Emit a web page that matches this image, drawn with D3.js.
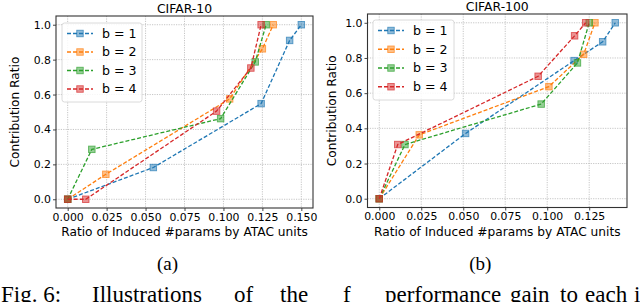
<!DOCTYPE html>
<html>
<head>
<meta charset="utf-8">
<script src="https://cdn.jsdelivr.net/npm/d3@7"></script>
<style>
  body { margin: 0; background: #fff; }
  svg { display: block; }
  text { font-family: "DejaVu Sans", sans-serif; fill: #000; }
  .serif { font-family: "Liberation Serif", "Times New Roman", serif; }
</style>
</head>
<body>
<svg id="chart" width="640" height="302"></svg>
<script>
// series labels and colours (matplotlib tab10)
var seriesNames = ["b = 1", "b = 2", "b = 3", "b = 4"];
var colors = ["#1f77b4", "#ff7f0e", "#2ca02c", "#d62728"];

// CIFAR-10 : x = ratio of induced #params, y = contribution ratio
var c10_b1_x = [0, 0.055, 0.1242, 0.1425, 0.150];
var c10_b1_y = [0, 0.182, 0.548, 0.910, 1.0];
var c10_b2_x = [0, 0.0245, 0.104, 0.125, 0.132];
var c10_b2_y = [0, 0.143, 0.575, 0.862, 1.0];
var c10_b3_x = [0, 0.0155, 0.0982, 0.1204, 0.1274];
var c10_b3_y = [0, 0.286, 0.462, 0.787, 1.0];
var c10_b4_x = [0, 0.0116, 0.0956, 0.1176, 0.1242];
var c10_b4_y = [0, 0, 0.505, 0.752, 1.0];

// CIFAR-100
var c100_b1_x = [0, 0.0514, 0.116, 0.133, 0.1405];
var c100_b1_y = [0, 0.371, 0.785, 0.892, 1.0];
var c100_b2_x = [0, 0.0238, 0.101, 0.1217, 0.1284];
var c100_b2_y = [0, 0.363, 0.637, 0.821, 1.0];
var c100_b3_x = [0, 0.0153, 0.0964, 0.118, 0.125];
var c100_b3_y = [0, 0.308, 0.538, 0.772, 1.0];
var c100_b4_x = [0, 0.011, 0.0946, 0.1163, 0.1229];
var c100_b4_y = [0, 0.308, 0.696, 0.926, 1.0];

var yTicks = [0, 0.2, 0.4, 0.6, 0.8, 1.0];
var c10_xTicks = [0, 0.025, 0.05, 0.075, 0.1, 0.125, 0.15];
var c100_xTicks = [0, 0.025, 0.05, 0.075, 0.1, 0.125];

var xLabel = "Ratio of Induced #params by ATAC units";
var yLabel = "Contribution Ratio";

var svg = d3.select("#chart");

function zip(xs, ys){ return xs.map(function(x, i){ return [x, ys[i]]; }); }

var panels = [
  { title: "CIFAR-10", sub: "(a)", left: 56, right: 313, top: 16, bottom: 208,
    xDomain: [-0.0075, 0.1575], xTicks: c10_xTicks, titleY: 12.5, yLabelX: 19,
    legend: {x: 62, y: 23, w: 80, h: 79},
    series: [zip(c10_b1_x, c10_b1_y), zip(c10_b2_x, c10_b2_y), zip(c10_b3_x, c10_b3_y), zip(c10_b4_x, c10_b4_y)] },
  { title: "CIFAR-100", sub: "(b)", left: 367.5, right: 627, top: 14, bottom: 207.5,
    xDomain: [-0.007, 0.1475], xTicks: c100_xTicks, titleY: 10.5, yLabelX: 336,
    legend: {x: 373, y: 20, w: 81, h: 80},
    series: [zip(c100_b1_x, c100_b1_y), zip(c100_b2_x, c100_b2_y), zip(c100_b3_x, c100_b3_y), zip(c100_b4_x, c100_b4_y)] }
];

panels.forEach(function(p){

  var x = d3.scaleLinear().domain(p.xDomain).range([p.left, p.right]);
  var y = d3.scaleLinear().domain([-0.05, 1.05]).range([p.bottom, p.top]);
  var g = svg.append("g");

  //grid
  g.selectAll("line.gx").data(p.xTicks).enter().append("line")
    .attr("x1", function(d){ return x(d); }).attr("x2", function(d){ return x(d); })
    .attr("y1", p.top).attr("y2", p.bottom)
    .attr("stroke", "#b8b8b8").attr("stroke-width", 0.8).attr("stroke-dasharray", "1.2,1.2");
  g.selectAll("line.gy").data(yTicks).enter().append("line")
    .attr("y1", function(d){ return y(d); }).attr("y2", function(d){ return y(d); })
    .attr("x1", p.left).attr("x2", p.right)
    .attr("stroke", "#b8b8b8").attr("stroke-width", 0.8).attr("stroke-dasharray", "1.2,1.2");

  //axes
  var xAxis = d3.axisBottom(x).tickValues(p.xTicks).tickFormat(d3.format(".3f")).tickSize(3).tickPadding(2);
  var yAxis = d3.axisLeft(y).tickValues(yTicks).tickFormat(d3.format(".1f")).tickSize(3).tickPadding(2);
  var gx = g.append("g").attr("transform", "translate(0," + p.bottom + ")").call(xAxis);
  var gy = g.append("g").attr("transform", "translate(" + p.left + ",0)").call(yAxis);
  [gx, gy].forEach(function(a){
    a.select(".domain").remove();
    a.selectAll(".tick line").attr("stroke", "#333").attr("stroke-width", 0.9);
    a.selectAll(".tick text").attr("font-family", "DejaVu Sans").attr("font-size", 10.9).attr("fill", "#000");
  });

  //lines and markers
  var line = d3.line().x(function(d){ return x(d[0]); }).y(function(d){ return y(d[1]); });
  p.series.forEach(function(s, i){
    g.append("path").datum(s).attr("d", line)
      .attr("fill", "none").attr("stroke", colors[i]).attr("stroke-width", 1.3)
      .attr("stroke-dasharray", "4,2");
    g.selectAll(null).data(s).enter().append("rect")
      .attr("x", function(d){ return x(d[0]) - 3.25; }).attr("y", function(d){ return y(d[1]) - 3.25; })
      .attr("width", 6.5).attr("height", 6.5)
      .attr("fill", colors[i]).attr("fill-opacity", 0.5)
      .attr("stroke", colors[i]).attr("stroke-opacity", 0.7).attr("stroke-width", 0.9);
  });

  //frame
  g.append("rect").attr("x", p.left).attr("y", p.top)
    .attr("width", p.right - p.left).attr("height", p.bottom - p.top)
    .attr("fill", "none").attr("stroke", "#333").attr("stroke-width", 1.1);

  //legend
  var L = p.legend;
  var lg = g.append("g");
  lg.append("rect").attr("x", L.x).attr("y", L.y).attr("width", L.w).attr("height", L.h)
    .attr("rx", 2.5).attr("fill", "#fff").attr("fill-opacity", 0.85)
    .attr("stroke", "#d6d6d6").attr("stroke-width", 0.9);
  var rowH = (L.h - 5) / 4;
  seriesNames.forEach(function(name, i){
    var cy = L.y + 10.5 + i * rowH;
    lg.append("line").attr("x1", L.x + 5).attr("x2", L.x + 31).attr("y1", cy).attr("y2", cy)
      .attr("stroke", colors[i]).attr("stroke-width", 1.3).attr("stroke-dasharray", "4,2");
    lg.append("rect").attr("x", L.x + 14.75).attr("y", cy - 3.25).attr("width", 6.5).attr("height", 6.5)
      .attr("fill", colors[i]).attr("fill-opacity", 0.5)
      .attr("stroke", colors[i]).attr("stroke-opacity", 0.7).attr("stroke-width", 0.9);
    lg.append("text").attr("x", L.x + 40).attr("y", cy + 4.4)
      .attr("font-size", 12.6).text(name);
  });

  //titles and labels
  var cx = (p.left + p.right) / 2;
  g.append("text").attr("x", cx).attr("y", p.titleY).attr("text-anchor", "middle")
    .attr("font-size", 12.4).text(p.title);
  g.append("text").attr("x", cx).attr("y", 236).attr("text-anchor", "middle")
    .attr("font-size", 12.2).text(xLabel);
  g.append("text").attr("transform", "translate(" + p.yLabelX + "," + ((p.top + p.bottom) / 2) + ") rotate(-90)")
    .attr("text-anchor", "middle").attr("font-size", 12.2).text(yLabel);
  g.append("text").attr("class", "serif").attr("x", cx - 17).attr("y", 269.5).attr("text-anchor", "middle")
    .attr("font-size", 19).text(p.sub);
});

// figure caption, clipped by the bottom edge
var captionWords = ["Fig. 6:", "Illustrations", "of", "the", "f", "performance", "gain", "to", "each", "i"];
var captionX = [1, 92, 234, 280, 343, 385, 510, 560, 585, 634];
svg.append("g").selectAll("text").data(captionWords).enter().append("text")
  .attr("class", "serif").attr("x", function(d, i){ return captionX[i]; }).attr("y", 302)
  .attr("font-size", 23).text(function(d){ return d; });
</script>
</body>
</html>
